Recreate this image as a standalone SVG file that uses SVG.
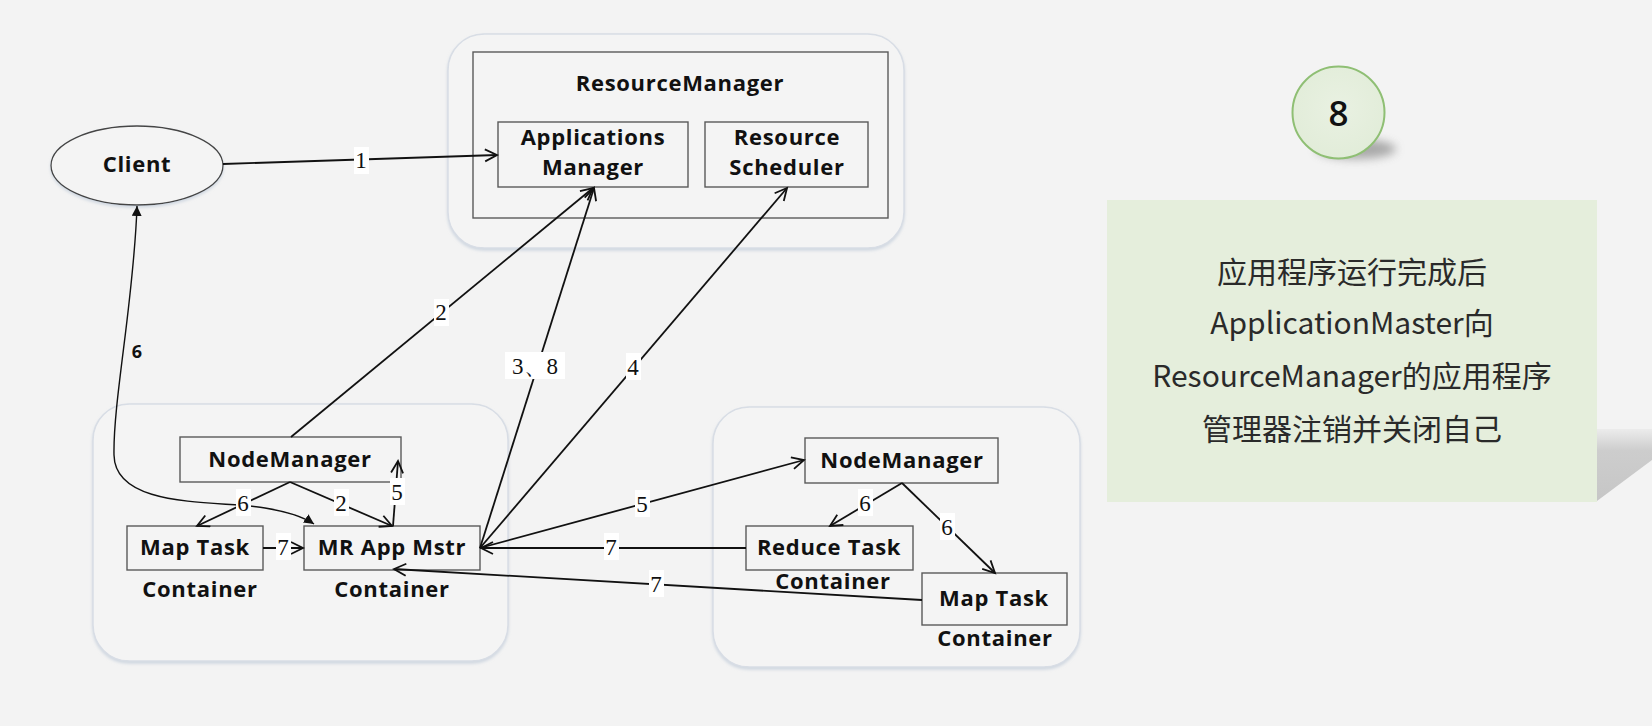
<svg xmlns="http://www.w3.org/2000/svg" width="1652" height="726" viewBox="0 0 1652 726">
<defs>
<style>
.bg{fill:#f3f3f3}
.cont{fill:#f4f4f4;stroke:#d8dde5;stroke-width:1.5}
.box{fill:#f4f4f4;stroke:#5a5a5a;stroke-width:1.4}
.t{font-family:"Open Sans","Liberation Sans",sans-serif;font-weight:700;font-size:22px;fill:#111;text-anchor:middle;letter-spacing:0.7px}
.e{fill:none;stroke:#111;stroke-width:1.8}
.lb{fill:#fff}
.lt{font-family:"Liberation Serif",serif;font-size:23px;fill:#111;text-anchor:middle}
.zh{font-family:"Noto Sans CJK SC",sans-serif;font-size:30px;fill:#2a2a2a;text-anchor:middle;font-weight:400}
</style>
<marker id="oa" markerUnits="userSpaceOnUse" markerWidth="16" markerHeight="16" refX="13" refY="7" orient="auto">
<path d="M1,1 L13,7 L1,13" fill="none" stroke="#111" stroke-width="1.8"/>
</marker>
<marker id="fa" markerUnits="userSpaceOnUse" markerWidth="12" markerHeight="12" refX="10" refY="5" orient="auto-start-reverse">
<path d="M0,0 L10,5 L0,10 z" fill="#111"/>
</marker>
<filter id="blur" x="-50%" y="-50%" width="200%" height="200%"><feGaussianBlur stdDeviation="5"/></filter>
<filter id="sh" x="-10%" y="-10%" width="120%" height="130%"><feDropShadow dx="0" dy="2" stdDeviation="1.5" flood-color="#b8c4d4" flood-opacity="0.6"/></filter>
<linearGradient id="shg" x1="0" y1="0" x2="0" y2="1">
<stop offset="0" stop-color="#ececec"/><stop offset="0.3" stop-color="#cdcdcd"/><stop offset="1" stop-color="#c6c6c6"/>
</linearGradient>
<radialGradient id="cg" cx="0.5" cy="0.45" r="0.6">
<stop offset="0" stop-color="#e9f1e2"/><stop offset="1" stop-color="#e1ecd8"/>
</radialGradient>
</defs>
<rect class="bg" x="0" y="0" width="1652" height="726"/>

<g id="rm-container">
<rect class="cont" x="448" y="34" width="456" height="214" rx="36" filter="url(#sh)"/>
<rect class="box" x="473" y="52" width="415" height="166"/>
<text class="t" x="680" y="91">ResourceManager</text>
</g>
<g id="left-container"><rect class="cont" x="93" y="404" width="415" height="257" rx="36" filter="url(#sh)"/></g>
<g id="right-container"><rect class="cont" x="713" y="407" width="367" height="260" rx="36" filter="url(#sh)"/></g>

<g id="client">
<ellipse cx="137" cy="165.5" rx="86" ry="39.5" fill="#f4f4f4" stroke="#444" stroke-width="1.3" filter="url(#sh)"/>
<text class="t" x="137" y="172">Client</text>
</g>
<g id="apps-manager">
<rect class="box" x="498" y="122" width="190" height="65"/>
<text class="t" x="593" y="145">Applications</text>
<text class="t" x="593" y="175">Manager</text>
</g>
<g id="resource-scheduler">
<rect class="box" x="705" y="122" width="163" height="65"/>
<text class="t" x="787" y="145">Resource</text>
<text class="t" x="787" y="175">Scheduler</text>
</g>
<g id="nm1">
<rect class="box" x="180" y="437" width="221" height="45"/>
<text class="t" x="290" y="467">NodeManager</text>
</g>
<g id="maptask1">
<rect class="box" x="127" y="526" width="136" height="44"/>
<text class="t" x="195" y="555">Map Task</text>
<text class="t" x="200" y="597">Container</text>
</g>
<g id="mrappmstr">
<rect class="box" x="304" y="526" width="176" height="44"/>
<text class="t" x="392" y="555">MR App Mstr</text>
<text class="t" x="392" y="597">Container</text>
</g>
<g id="nm2">
<rect class="box" x="805" y="438" width="193" height="45"/>
<text class="t" x="902" y="468">NodeManager</text>
</g>
<g id="reduce">
<rect class="box" x="746" y="526" width="167" height="44"/>
<text class="t" x="829" y="555">Reduce Task</text>
<text class="t" x="833" y="589">Container</text>
</g>
<g id="maptask2">
<rect class="box" x="922" y="573" width="145" height="52"/>
<text class="t" x="994" y="606">Map Task</text>
<text class="t" x="995" y="646">Container</text>
</g>

<g id="connectors">
<line class="e" x1="223" y1="164" x2="497" y2="155" marker-end="url(#oa)"/>
<line class="e" x1="291" y1="437" x2="593" y2="188" marker-end="url(#oa)"/>
<line class="e" x1="480" y1="548" x2="594" y2="188" marker-end="url(#oa)"/>
<line class="e" x1="480" y1="548" x2="787" y2="188" marker-end="url(#oa)"/>
<line class="e" x1="480" y1="548" x2="804" y2="460" marker-end="url(#oa)"/>
<line class="e" x1="746" y1="548" x2="481" y2="548" marker-end="url(#oa)"/>
<line class="e" x1="922" y1="600" x2="394" y2="569" marker-end="url(#oa)"/>
<line class="e" x1="263" y1="548" x2="303" y2="548" marker-end="url(#oa)"/>
<line class="e" x1="290" y1="482" x2="197" y2="526" marker-end="url(#oa)"/>
<line class="e" x1="290" y1="482" x2="392" y2="526" marker-end="url(#oa)"/>
<line class="e" x1="393" y1="526" x2="398" y2="461" marker-end="url(#oa)"/>
<line class="e" x1="902" y1="483" x2="830" y2="526" marker-end="url(#oa)"/>
<line class="e" x1="902" y1="483" x2="995" y2="573" marker-end="url(#oa)"/>
<path class="e" style="stroke-width:1.4" d="M137,206 C134,300 113,400 114,455 C115,510 220,500 265,508 C290,512 305,518 314,524" marker-start="url(#fa)" marker-end="url(#fa)"/>

<rect class="lb" x="354" y="147" width="15" height="27"/><text class="lt" x="361" y="168">1</text>
<rect class="lb" x="434" y="299" width="15" height="27"/><text class="lt" x="441" y="320">2</text>
<rect class="lb" x="505" y="352" width="60" height="27"/><text class="lt" x="535" y="374">3、8</text>
<rect class="lb" x="626" y="353" width="15" height="27"/><text class="lt" x="633" y="375">4</text>
<rect class="lb" x="635" y="490" width="15" height="27"/><text class="lt" x="642" y="512">5</text>
<rect class="lb" x="604" y="533" width="15" height="27"/><text class="lt" x="611" y="555">7</text>
<rect class="lb" x="649" y="570" width="15" height="27"/><text class="lt" x="656" y="592">7</text>
<rect class="lb" x="276" y="533" width="15" height="27"/><text class="lt" x="283" y="555">7</text>
<rect class="lb" x="236" y="489" width="15" height="27"/><text class="lt" x="243" y="511">6</text>
<rect class="lb" x="334" y="489" width="15" height="27"/><text class="lt" x="341" y="511">2</text>
<rect class="lb" x="390" y="478" width="15" height="27"/><text class="lt" x="397" y="500">5</text>
<rect class="lb" x="858" y="489" width="15" height="27"/><text class="lt" x="865" y="511">6</text>
<rect class="lb" x="940" y="513" width="15" height="27"/><text class="lt" x="947" y="535">6</text>
<text x="137" y="358" font-family="Open Sans,Liberation Sans,sans-serif" font-weight="700" font-size="18" fill="#111" text-anchor="middle">6</text>
</g>

<g id="step-badge">
<ellipse cx="1356" cy="149" rx="40" ry="10" fill="#8a8a8a" opacity="0.7" filter="url(#blur)"/>
<circle cx="1338.5" cy="112.5" r="46" fill="url(#cg)" stroke="#8fbf74" stroke-width="2"/>
<text x="1338.5" y="126" font-family="Open Sans,Liberation Sans,sans-serif" font-weight="600" font-size="35" fill="#111" text-anchor="middle">8</text>
</g>

<g id="note">
<polygon points="1597,429 1652,429 1652,460 1597,501" fill="url(#shg)"/>
<rect x="1107" y="200" width="490" height="302" fill="#e5eedc"/>
<text class="zh" x="1352" y="283">应用程序运行完成后</text>
<text class="zh" x="1352" y="334">ApplicationMaster向</text>
<text class="zh" x="1352" y="387">ResourceManager的应用程序</text>
<text class="zh" x="1352" y="440">管理器注销并关闭自己</text>
</g>
</svg>
